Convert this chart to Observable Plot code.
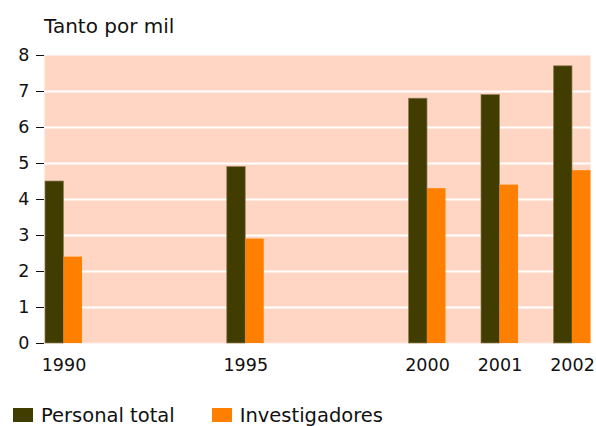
<!DOCTYPE html>
<html>
<head>
<meta charset="utf-8">
<script src="https://cdn.jsdelivr.net/npm/d3@7"></script>
<script src="https://cdn.jsdelivr.net/npm/@observablehq/plot@0.6"></script>
<style>
  html, body { margin: 0; padding: 0; background: #fff; }
  body { position: relative; width: 596px; height: 426px; overflow: hidden; font-family: "DejaVu Sans", sans-serif; color: #111; }
  #title { position: absolute; left: 44px; top: 16px; font-size: 20px; line-height: 20px; white-space: nowrap; }
  #chart { position: absolute; left: 0; top: 36px; }
  #chart svg text { font-size: 17.5px; }
  #legend { position: absolute; left: 13px; top: 406px; font-size: 19.5px; line-height: 19.5px; white-space: nowrap; }
  .sw { display: inline-block; width: 20px; height: 14px; vertical-align: baseline; }
  .lab { margin-left: 8px; }
</style>
</head>
<body>
<div id="title">Tanto por mil</div>
<div id="chart"></div>
<div id="legend"></div>
<script>
const years = [1990, 1995, 2000, 2001, 2002];
const personalTotal = [4.5, 4.9, 6.8, 6.9, 7.7];
const investigadores = [2.4, 2.9, 4.3, 4.4, 4.8];
const yTicks = [0, 1, 2, 3, 4, 5, 6, 7, 8];
const gridValues = [1, 2, 3, 4, 5, 6, 7];
const seriesNames = ["Personal total", "Investigadores"];
const seriesColors = ["#413c00", "#ff8000"];

const dataPT = years.map((year, i) => ({year, value: personalTotal[i]}));
const dataInv = years.map((year, i) => ({year, value: investigadores[i]}));

const barW = 18.5;

const plot = Plot.plot({
  width: 596,
  height: 349,
  marginTop: 19,
  marginBottom: 42,
  marginLeft: 44,
  marginRight: 6,
  style: {fontFamily: "DejaVu Sans", fontSize: "17.5px", color: "#111", background: "transparent"},
  x: {
    type: "linear",
    domain: [1990, 2000, 2002],
    range: [63.5, 427, 572],
    ticks: years,
    tickFormat: d => String(d),
    tickSize: 0,
    tickPadding: 15,
    label: null
  },
  y: {
    domain: [0, 8],
    ticks: yTicks,
    tickSize: 8,
    tickPadding: 7,
    label: null
  },
  marks: [
    Plot.frame({fill: "#ffd6c4", stroke: "none"}),
    Plot.ruleY(gridValues, {stroke: "#ffffff", strokeWidth: 2}),
    Plot.ruleY([0], {stroke: "#fff4ef", strokeWidth: 1.5}),
    Plot.rectY(dataPT, {x1: "year", x2: "year", y1: 0, y2: "value", insetLeft: -barW, insetRight: 0, fill: seriesColors[0], stroke: "#8f8058", strokeWidth: 0.7}),
    Plot.rectY(dataInv, {x1: "year", x2: "year", y1: 0, y2: "value", insetLeft: 0, insetRight: -barW, fill: seriesColors[1]})
  ]
});
document.getElementById("chart").appendChild(plot);

const legend = document.getElementById("legend");
seriesNames.forEach((name, i) => {
  const sw = document.createElement("span");
  sw.className = "sw";
  sw.style.background = seriesColors[i];
  if (i > 0) sw.style.marginLeft = "37px";
  const lab = document.createElement("span");
  lab.className = "lab";
  lab.textContent = name;
  legend.appendChild(sw);
  legend.appendChild(lab);
});
</script>
</body>
</html>
